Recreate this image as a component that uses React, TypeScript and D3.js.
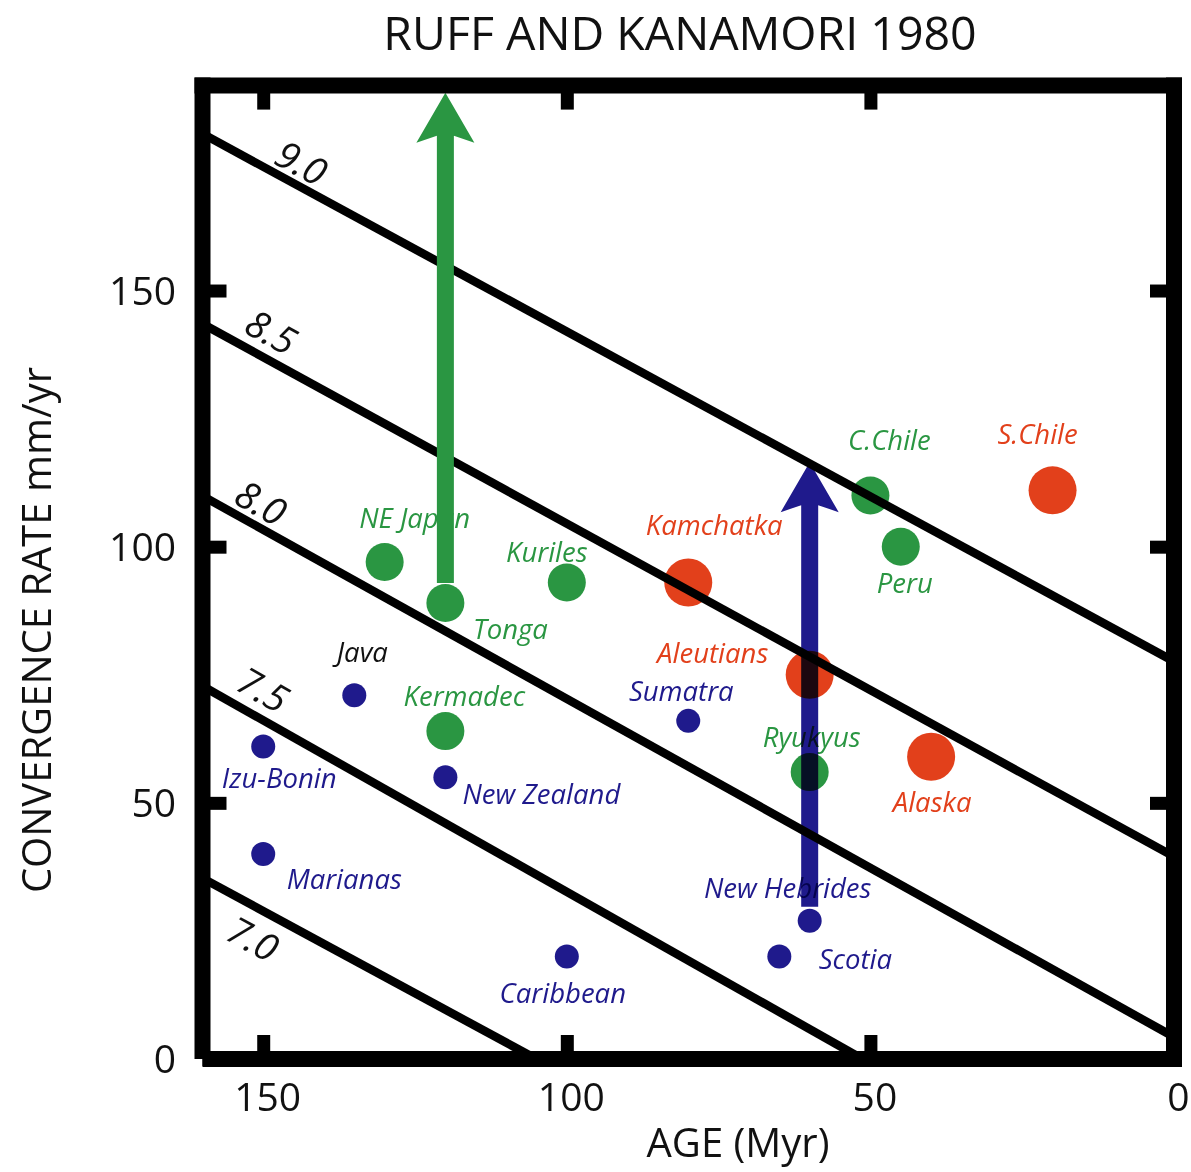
import React, { useEffect, useRef } from "react";
import * as d3 from "d3";

// ---- data ----
const blueNames = ["Java", "Izu-Bonin", "Marianas", "New Zealand", "Caribbean", "Sumatra", "New Hebrides", "Scotia"];
const blueAges = [135, 150, 150, 120, 100, 80, 60, 65];
const blueRates = [71, 61, 40, 55, 20, 66, 27, 20];

const greenNames = ["NE Japan", "Tonga", "Kuriles", "Kermadec", "C.Chile", "Peru", "Ryukyus"];
const greenAges = [130, 120, 100, 120, 50, 45, 60];
const greenRates = [97, 89, 93, 64, 110, 100, 56];

const redNames = ["Kamchatka", "Aleutians", "Alaska", "S.Chile"];
const redAges = [80, 60, 40, 20];
const redRates = [93, 75, 59, 111];

// magnitude contour lines: [age, rate] endpoints
const contourLabels = ["9.0", "8.5", "8.0", "7.5", "7.0"];
const contourStart = [[160, 180.6], [160, 143.5], [160, 109.9], [160, 72.8], [160, 35.3]];
const contourEnd = [[0, 77.6], [0, 39.5], [0, 4.3], [51.3, 0], [105, 0]];
const contourLabelAges = [143.6, 148.6, 150.3, 149.9, 151.6];

// arrows: age, from rate, to rate
const arrowAges = [120, 60];
const arrowFrom = [92.9, 29.7];
const arrowTo = [188.6, 116.5];

const xTicks = [150, 100, 50, 0];
const yTicks = [150, 100, 50, 0];

// ---- layout / style (kept apart from data) ----
const W = 1191;
const H = 1172;
const BLUE = "#1f1a8c";
const GREEN = "#2a9642";
const RED = "#e2401b";
const FONT = "'Open Sans', 'Noto Sans', sans-serif";

const labelOffsets: Record<string, [number, number]> = {
  "Java": [8, -44],
  "Izu-Bonin": [16, 31],
  "Marianas": [81, 24],
  "New Zealand": [96, 16],
  "Caribbean": [-4, 36],
  "Sumatra": [-7, -30],
  "New Hebrides": [-22, -33],
  "Scotia": [76, 2],
  "NE Japan": [30, -45],
  "Tonga": [65, 25],
  "Kuriles": [-20, -31],
  "Kermadec": [19, -36],
  "C.Chile": [19, -56],
  "Peru": [4, 36],
  "Ryukyus": [2, -36],
  "Kamchatka": [26, -58],
  "Aleutians": [-97, -22],
  "Alaska": [1, 45],
  "S.Chile": [-15, -57],
};
const contourLabelOffset = [-26, -31, -27, -32, 32];

export default function App() {
  const ref = useRef<SVGSVGElement | null>(null);

  useEffect(() => {
    const svg = d3.select(ref.current);
    svg.selectAll("*").remove();

    const x = d3.scaleLinear().domain([160, 0]).range([202.5, 1174]);
    const y = d3.scaleLinear().domain([0, 190]).range([1059, 85.6]);

    const [x0, x1] = x.range();
    const [y0, y1] = y.range();
    const BW = 16;

    svg.append("defs").append("clipPath").attr("id", "plotclip")
      .append("rect").attr("x", x0).attr("y", y1).attr("width", x1 - x0).attr("height", y0 - y1);

    // title
    svg.append("text").attr("x", 680).attr("y", 50).attr("text-anchor", "middle")
      .attr("font-family", FONT).attr("font-size", 46.5).attr("fill", "#111")
      .text("RUFF AND KANAMORI 1980");

    const plot = svg.append("g").attr("clip-path", "url(#plotclip)");

    // circles
    const drawPts = (names: string[], ages: number[], rates: number[], color: string, r: number) => {
      names.forEach((n, i) => {
        plot.append("circle").attr("cx", x(ages[i])).attr("cy", y(rates[i])).attr("r", r).attr("fill", color);
      });
    };
    drawPts(blueNames, blueAges, blueRates, BLUE, 12);
    drawPts(greenNames, greenAges, greenRates, GREEN, 19);
    drawPts(redNames, redAges, redRates, RED, 24);

    // contour lines
    const line = d3.line<number[]>().x((d) => x(d[0])).y((d) => y(d[1]));
    contourLabels.forEach((lab, i) => {
      plot.append("path").attr("d", line([contourStart[i], contourEnd[i]]) as string)
        .attr("stroke", "#000").attr("stroke-width", 8.5).attr("fill", "none");
      const px0 = x(contourStart[i][0]), py0 = y(contourStart[i][1]);
      const px1 = x(contourEnd[i][0]), py1 = y(contourEnd[i][1]);
      const ang = Math.atan2(py1 - py0, px1 - px0);
      const lx = x(contourLabelAges[i]);
      const ly = py0 + (lx - px0) * Math.tan(ang);
      svg.append("text")
        .attr("transform", `translate(${lx},${ly + contourLabelOffset[i]}) rotate(${(ang * 180) / Math.PI})`)
        .attr("text-anchor", "middle").attr("dominant-baseline", "central")
        .attr("font-family", FONT).attr("font-style", "italic").attr("font-size", 38)
        .attr("fill", "#111").text(lab);
    });

    // point labels
    const drawLabels = (names: string[], ages: number[], rates: number[], color: string) => {
      names.forEach((n, i) => {
        const o = labelOffsets[n];
        svg.append("text").attr("x", x(ages[i]) + o[0]).attr("y", y(rates[i]) + o[1])
          .attr("text-anchor", "middle").attr("dominant-baseline", "central")
          .attr("font-family", FONT).attr("font-style", "italic").attr("font-size", 27.5)
          .attr("fill", n === "Java" ? "#111" : color).text(n);
      });
    };
    drawLabels(blueNames, blueAges, blueRates, BLUE);
    drawLabels(greenNames, greenAges, greenRates, GREEN);
    drawLabels(redNames, redAges, redRates, RED);

    // arrows
    const arrowColors = [GREEN, BLUE];
    arrowAges.forEach((a, i) => {
      const ax = x(a), yb = y(arrowFrom[i]), yt = y(arrowTo[i]);
      const sw = 8.5, hw = 29, hl = 50, nl = 43;
      const p = d3.path();
      p.moveTo(ax - sw, yb);
      p.lineTo(ax - sw, yt + nl);
      p.lineTo(ax - hw, yt + hl);
      p.lineTo(ax, yt);
      p.lineTo(ax + hw, yt + hl);
      p.lineTo(ax + sw, yt + nl);
      p.lineTo(ax + sw, yb);
      p.closePath();
      const el = svg.append("path").attr("d", p.toString()).attr("fill", arrowColors[i]);
      if (i === 1) el.style("mix-blend-mode", "multiply");
    });

    // frame
    const frame = svg.append("g").attr("stroke", "#000").attr("stroke-width", BW);
    frame.append("line").attr("x1", x0 - BW / 2).attr("x2", x1 + BW / 2).attr("y1", y1).attr("y2", y1);
    frame.append("line").attr("x1", x1).attr("x2", x1).attr("y1", y1 - BW / 2).attr("y2", y0 + BW / 2);
    frame.append("line").attr("x1", x0).attr("x2", x1 + BW / 2).attr("y1", y0).attr("y2", y0);
    frame.append("line").attr("x1", x0).attr("x2", x0).attr("y1", y1 - BW / 2).attr("y2", y0);

    // axes (ticks inward)
    const tickLen = BW / 2 + 16;
    const styleAxis = (g: any) => {
      g.select(".domain").remove();
      g.selectAll(".tick line").attr("stroke", "#000").attr("stroke-width", 13);
      g.selectAll(".tick text").attr("font-family", FONT).attr("font-size", 39).attr("fill", "#111");
    };
    const gb = svg.append("g").attr("transform", `translate(0,${y0})`)
      .call(d3.axisBottom(x).tickValues(xTicks).tickSizeInner(-tickLen).tickSizeOuter(0).tickFormat(d3.format("d")));
    styleAxis(gb);
    gb.selectAll(".tick text").attr("dx", 4).attr("dy", "0.35em").attr("y", 38);
    const gt = svg.append("g").attr("transform", `translate(0,${y1})`)
      .call(d3.axisTop(x).tickValues(xTicks.filter((v) => v !== 0)).tickSizeInner(-tickLen).tickSizeOuter(0).tickFormat(() => ""));
    styleAxis(gt);
    const gl = svg.append("g").attr("transform", `translate(${x0},0)`)
      .call(d3.axisLeft(y).tickValues(yTicks).tickSizeInner(-tickLen).tickSizeOuter(0).tickFormat(d3.format("d")));
    styleAxis(gl);
    gl.selectAll(".tick text").attr("x", 176 - x0).attr("dy", "0.35em").attr("text-anchor", "end");
    const gr = svg.append("g").attr("transform", `translate(${x1},0)`)
      .call(d3.axisRight(y).tickValues(yTicks.filter((v) => v !== 0)).tickSizeInner(-tickLen).tickSizeOuter(0).tickFormat(() => ""));
    styleAxis(gr);

    // axis titles
    svg.append("text").attr("x", 738).attr("y", 1157).attr("text-anchor", "middle")
      .attr("font-family", FONT).attr("font-size", 40).attr("fill", "#111").text("AGE (Myr)");
    svg.append("text").attr("transform", `translate(51,630) rotate(-90)`).attr("text-anchor", "middle")
      .attr("font-family", FONT).attr("font-size", 40).attr("fill", "#111").text("CONVERGENCE RATE mm/yr");
  }, []);

  return (
    <svg ref={ref} width={W} height={H} viewBox={`0 0 ${W} ${H}`}
      style={{ display: "block", position: "absolute", left: 0, top: 0, background: "#fff" }} />
  );
}
